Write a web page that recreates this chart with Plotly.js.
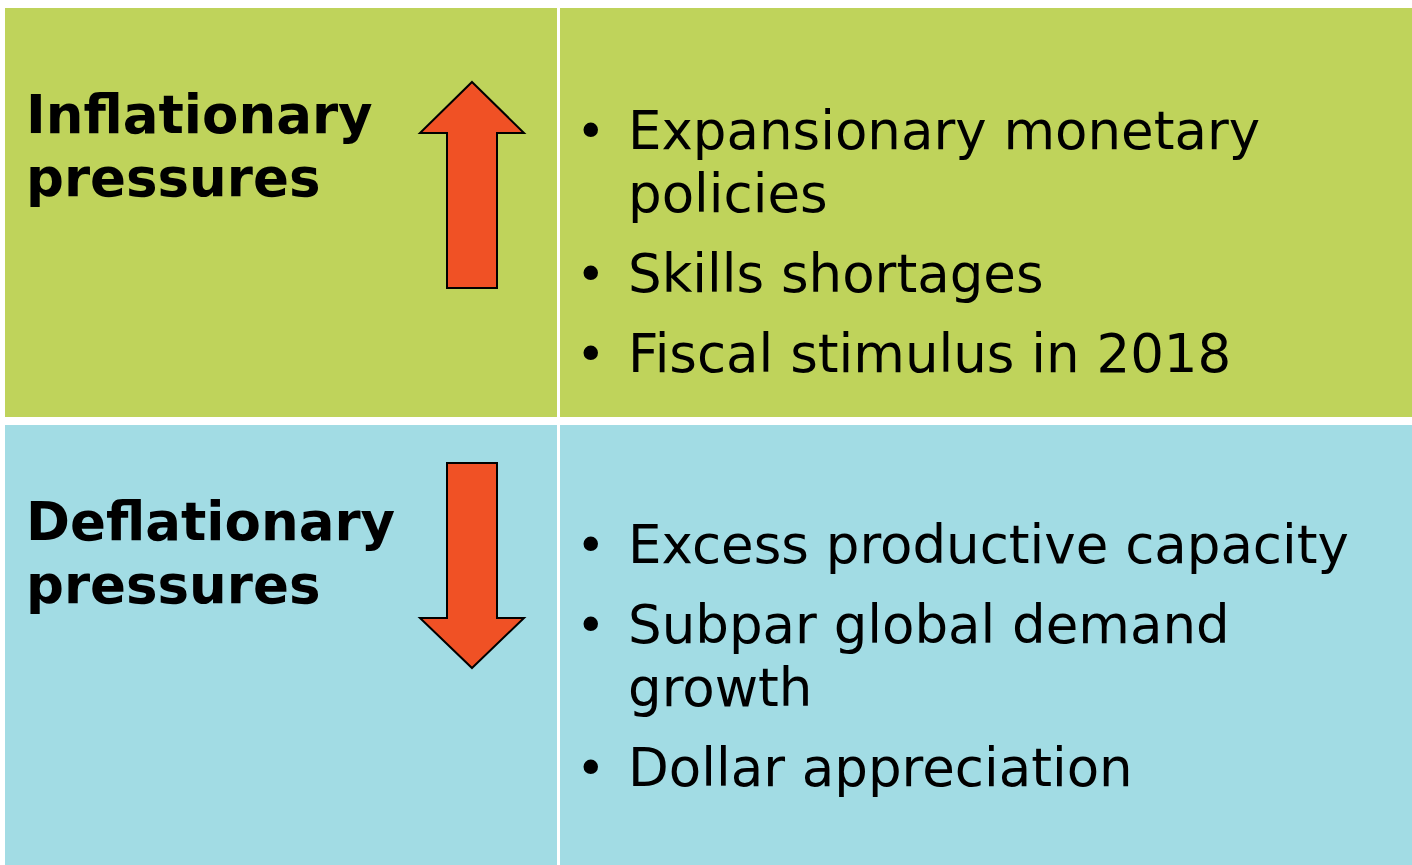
<!DOCTYPE html>
<html><head><meta charset="utf-8">
<script src="https://cdn.plot.ly/plotly-3.0.1.min.js"></script>
<style>html,body{margin:0;padding:0;background:#fff;}</style>
</head><body>
<div id="chart" style="width:1412px;height:865px;"></div>
<script>
// Content
const rowLabels = [["Inflationary", "pressures"], ["Deflationary", "pressures"]];
const rowDirections = ["up", "down"];
const rowItems = [
  [["Expansionary monetary", "policies"], ["Skills shortages"], ["Fiscal stimulus in 2018"]],
  [["Excess productive capacity"], ["Subpar global demand", "growth"], ["Dollar appreciation"]]
];
const rowColors = ["#BFD35B", "#A2DCE4"];
const arrowColor = "#F05125";

// Geometry (pixels)
const W = 1412, H = 865;
const rows = [{y0: 8, y1: 417}, {y0: 425, y1: 865}];
const tableX0 = 5, divX0 = 557, divX1 = 560;
const labelX = 25, bulletX = 575, textX = 627;
const labelFirst = [133, 540], labelStep = 63;
const itemFirst = [149, 563], itemStep = 80, wrapStep = 63;
const arrowCx = 472, headHalf = 52, shaftHalf = 25;
const arrowSpans = [{tip: 82, base: 288, head: 133}, {tip: 668, base: 463, head: 618}];

const shapes = [], annotations = [];
rows.forEach((r, i) => {
  shapes.push({type: "rect", xref: "x", yref: "y", x0: tableX0, x1: W, y0: r.y0, y1: r.y1,
    fillcolor: rowColors[i], line: {width: 0}, layer: "below"});
});
shapes.push({type: "rect", xref: "x", yref: "y", x0: divX0, x1: divX1, y0: 0, y1: H,
  fillcolor: "#FFFFFF", line: {width: 0}, layer: "below"});

arrowSpans.forEach((a, i) => {
  const p = [[arrowCx, a.tip], [arrowCx + headHalf, a.head], [arrowCx + shaftHalf, a.head],
    [arrowCx + shaftHalf, a.base], [arrowCx - shaftHalf, a.base], [arrowCx - shaftHalf, a.head],
    [arrowCx - headHalf, a.head]];
  const path = "M" + p.map(q => q[0] + "," + q[1]).join(" L") + " Z";
  shapes.push({type: "path", xref: "x", yref: "y", path: path, fillcolor: arrowColor,
    line: {color: "#000000", width: 2}});
});

const FS_L = 53, FS_R = 53, FS_B = 50;
function addText(txt, x, baseline, size, bold) {
  annotations.push({xref: "x", yref: "y", x: x, y: baseline + size * 0.24, xanchor: "left", yanchor: "bottom",
    text: bold ? "<b>" + txt + "</b>" : txt, showarrow: false,
    font: {family: "DejaVu Sans", size: size, color: "#000000"}, borderpad: 0});
}
rowLabels.forEach((lines, i) => {
  lines.forEach((ln, j) => addText(ln, labelX, labelFirst[i] + j * labelStep, FS_L, true));
});
rowItems.forEach((items, i) => {
  let y = itemFirst[i];
  items.forEach((lines, k) => {
    addText("•", bulletX, y, FS_B, false);
    lines.forEach((ln, j) => {
      addText(ln, textX, y, FS_R, false);
      if (j < lines.length - 1) y += wrapStep;
    });
    y += itemStep;
  });
});

const layout = {
  width: W, height: H, margin: {l: 0, r: 0, t: 0, b: 0},
  paper_bgcolor: "#FFFFFF", plot_bgcolor: "#FFFFFF",
  xaxis: {range: [0, W], visible: false, fixedrange: true},
  yaxis: {range: [H, 0], visible: false, fixedrange: true},
  showlegend: false, shapes: shapes, annotations: annotations
};
Plotly.newPlot("chart", [{x: [0], y: [0], mode: "markers", marker: {opacity: 0}, hoverinfo: "skip"}], layout,
  {displayModeBar: false, staticPlot: true});
</script>
</body></html>
